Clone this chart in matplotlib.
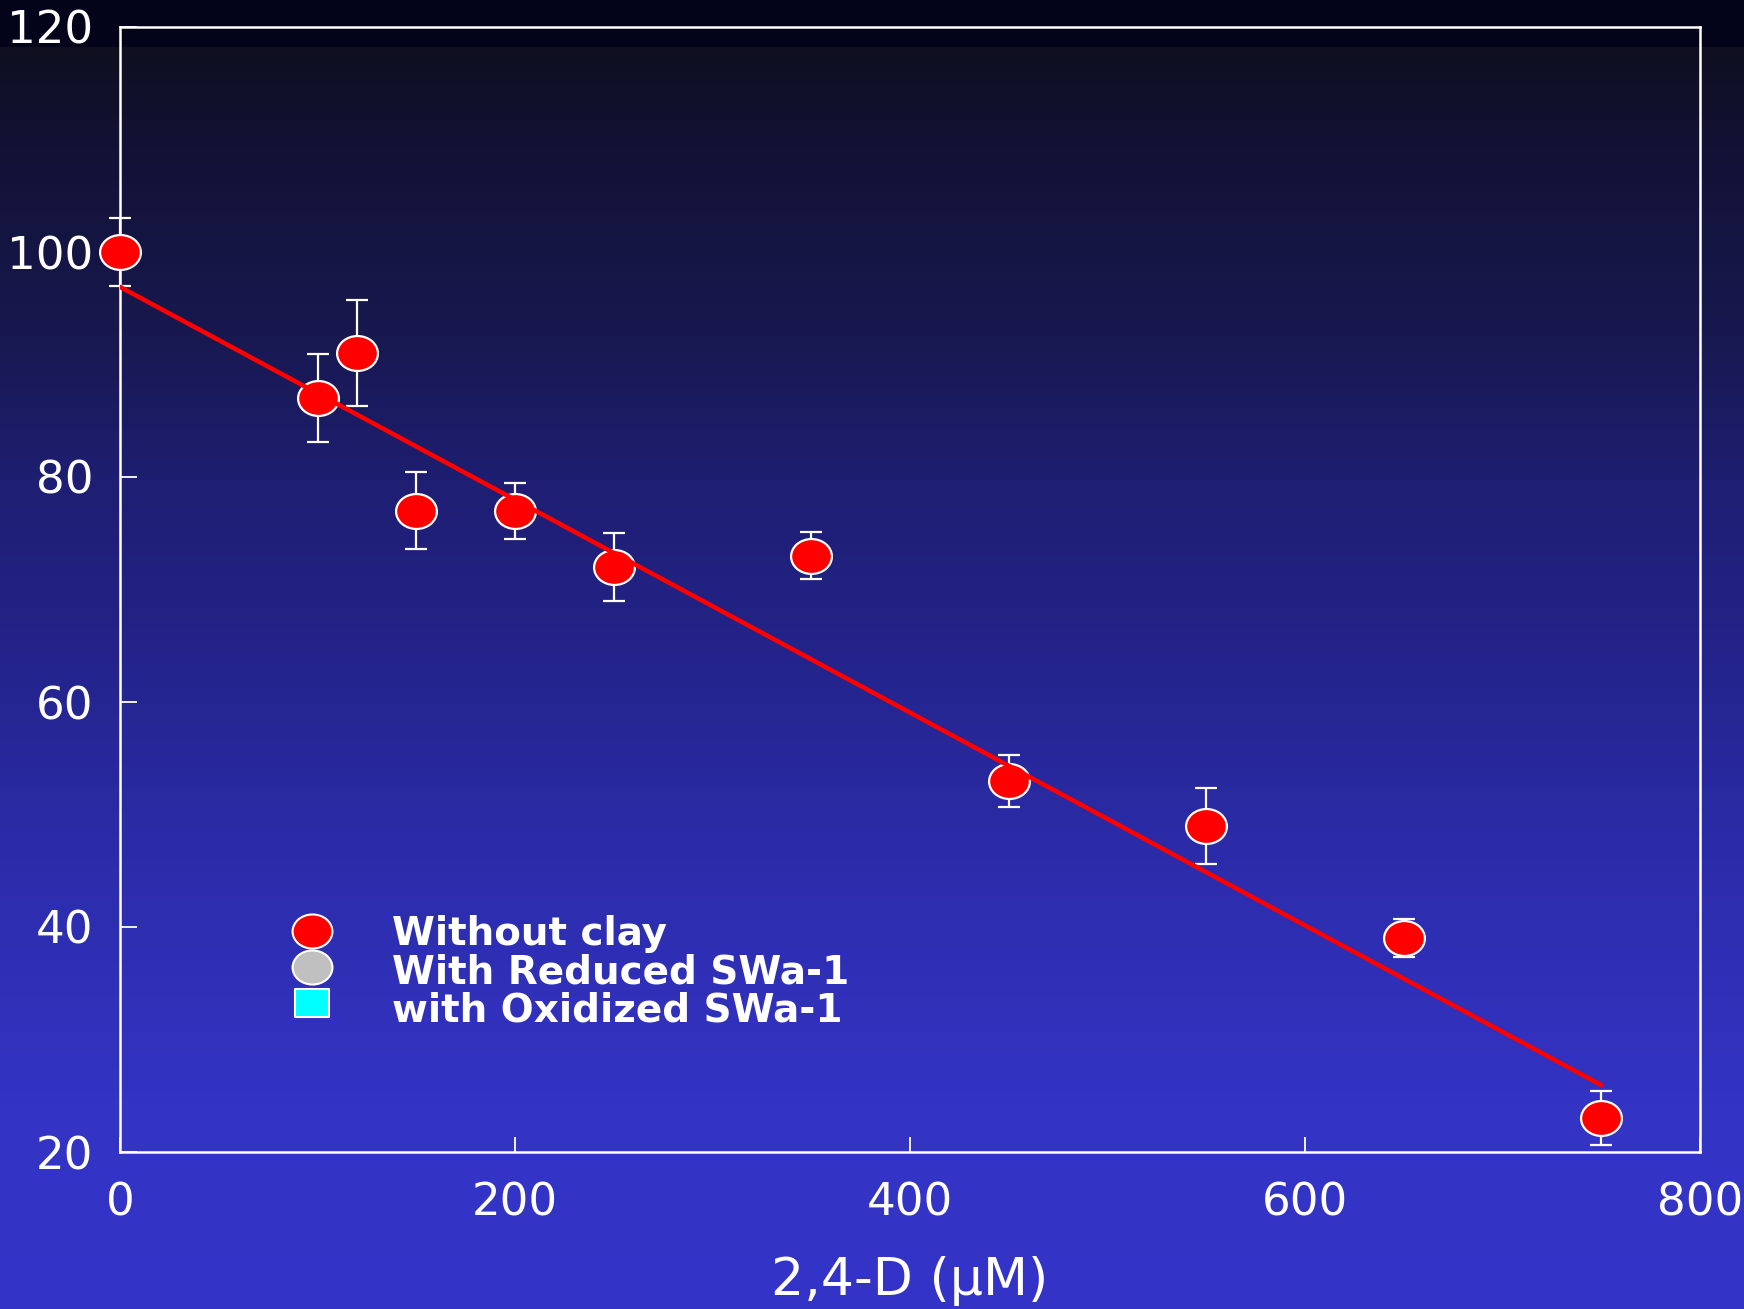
import numpy as np
import matplotlib
matplotlib.use("Agg")
import matplotlib.pyplot as plt
from matplotlib.path import Path
from matplotlib.transforms import Affine2D
from matplotlib.colors import to_rgb

# 2,4-D concentration (µM) and response (% of control) with standard errors
conc = [0, 100, 120, 150, 200, 250, 350, 450, 550, 650, 750]
response = [100, 87, 91, 77, 77, 72, 73, 53, 49, 39, 23]
response_err = [3.0, 3.9, 4.7, 3.4, 2.5, 3.0, 2.1, 2.3, 3.4, 1.7, 2.4]

# linear regression of the "without clay" series
fit_intercept = 96.9
fit_slope = -0.0946
fit_range = [0, 750]

legend_labels = ["Without clay", "With Reduced SWa-1", "with Oxidized SWa-1"]
legend_colors = ["#ff0000", "#c0c0c0", "#00ffff"]

xticks = [0, 200, 400, 600, 800]
yticks = [20, 40, 60, 80, 100, 120]
xlabel = "2,4-D (µM)"

W, H = 1744, 1309
fig = plt.figure(figsize=(W / 100, H / 100), dpi=100)

# vertical background gradient: dark navy at the top to bright blue at the bottom
bg = fig.add_axes([0, 0, 1, 1], zorder=-10)
stop_px = [0, 46, 47, 150, 330, 480, 640, 860, 1100, 1309]
stop_col = ["#030319", "#030319", "#0f0f20", "#121236", "#18184f",
            "#1e1e72", "#232389", "#2c2cab", "#3333c4", "#3434c8"]
rows = np.arange(H)
rgb = np.array([to_rgb(c) for c in stop_col])
grad = np.stack([np.interp(rows, stop_px, rgb[:, k]) for k in range(3)], axis=-1)
bg.imshow(grad[:, None, :], aspect="auto", extent=[0, 1, 0, 1], origin="upper")
bg.set_axis_off()

ax = fig.add_axes([120 / W, 1 - 1152 / H, 1580 / W, 1125 / H])
ax.set_facecolor("none")

# slightly wide elliptical marker and matching box marker
ellipse = Affine2D().scale(1.0, 0.855).transform_path(Path.unit_circle())
box = Affine2D().translate(-0.5, -0.5).scale(1.0, 0.853).transform_path(Path.unit_rectangle())

eb = ax.errorbar(conc, response, yerr=response_err, fmt="none", ecolor="white",
                 elinewidth=1.6, capsize=8.2, capthick=1.6, zorder=2)
for artist in eb.lines[1] + eb.lines[2]:
    artist.set_clip_on(False)
ax.plot(conc, response, linestyle="none", marker=ellipse, markersize=29.4,
        markerfacecolor="#ff0000", markeredgecolor="white", markeredgewidth=1.6,
        zorder=3, clip_on=False)

fx = np.array(fit_range, dtype=float)
ax.plot(fx, fit_intercept + fit_slope * fx, color="#ff0000", linewidth=3.3,
        solid_capstyle="round", zorder=4)

ax.set_xlim(0, 800)
ax.set_ylim(20, 120)
ax.set_xticks(xticks)
ax.set_yticks(yticks)
ax.set_xticklabels([str(v) for v in xticks])
ax.set_yticklabels([str(v) for v in yticks])

for side in ["left", "right", "top", "bottom"]:
    ax.spines[side].set_color("white")
    ax.spines[side].set_linewidth(1.8)

ax.tick_params(axis="x", direction="in", length=10.8, width=1.3, color="white",
               labelcolor="white", labelsize=32.5, pad=21)
ax.tick_params(axis="y", direction="in", length=12.2, width=1.3, color="white",
               labelcolor="white", labelsize=32.5, pad=19)

ax.set_xlabel(xlabel, fontsize=37.5, color="white", va="baseline")
ax.xaxis.set_label_coords(0.5, (1152 - 1295) / 1125)

# legend block
mk_x = (311.5 - 120) / 1580
txt_x = (392 - 120) / 1580
mk_y = [(1152 - v) / 1125 for v in (931, 967, 1003)]
txt_y = [(1152 - v) / 1125 for v in (945, 983, 1021)]
legend_markers = [ellipse, ellipse, box]
legend_sizes = [28.7, 28.7, 24.0]
for lab, col, m, ms, my, ty in zip(legend_labels, legend_colors, legend_markers,
                                   legend_sizes, mk_y, txt_y):
    ax.plot([mk_x], [my], transform=ax.transAxes, linestyle="none", marker=m,
            markersize=ms, markerfacecolor=col, markeredgecolor="white",
            markeredgewidth=1.5, clip_on=False, zorder=5)
    ax.text(txt_x, ty, lab, transform=ax.transAxes, fontsize=28,
            fontweight="bold", color="white", ha="left", va="baseline")

fig.savefig("out.png", dpi=100)
